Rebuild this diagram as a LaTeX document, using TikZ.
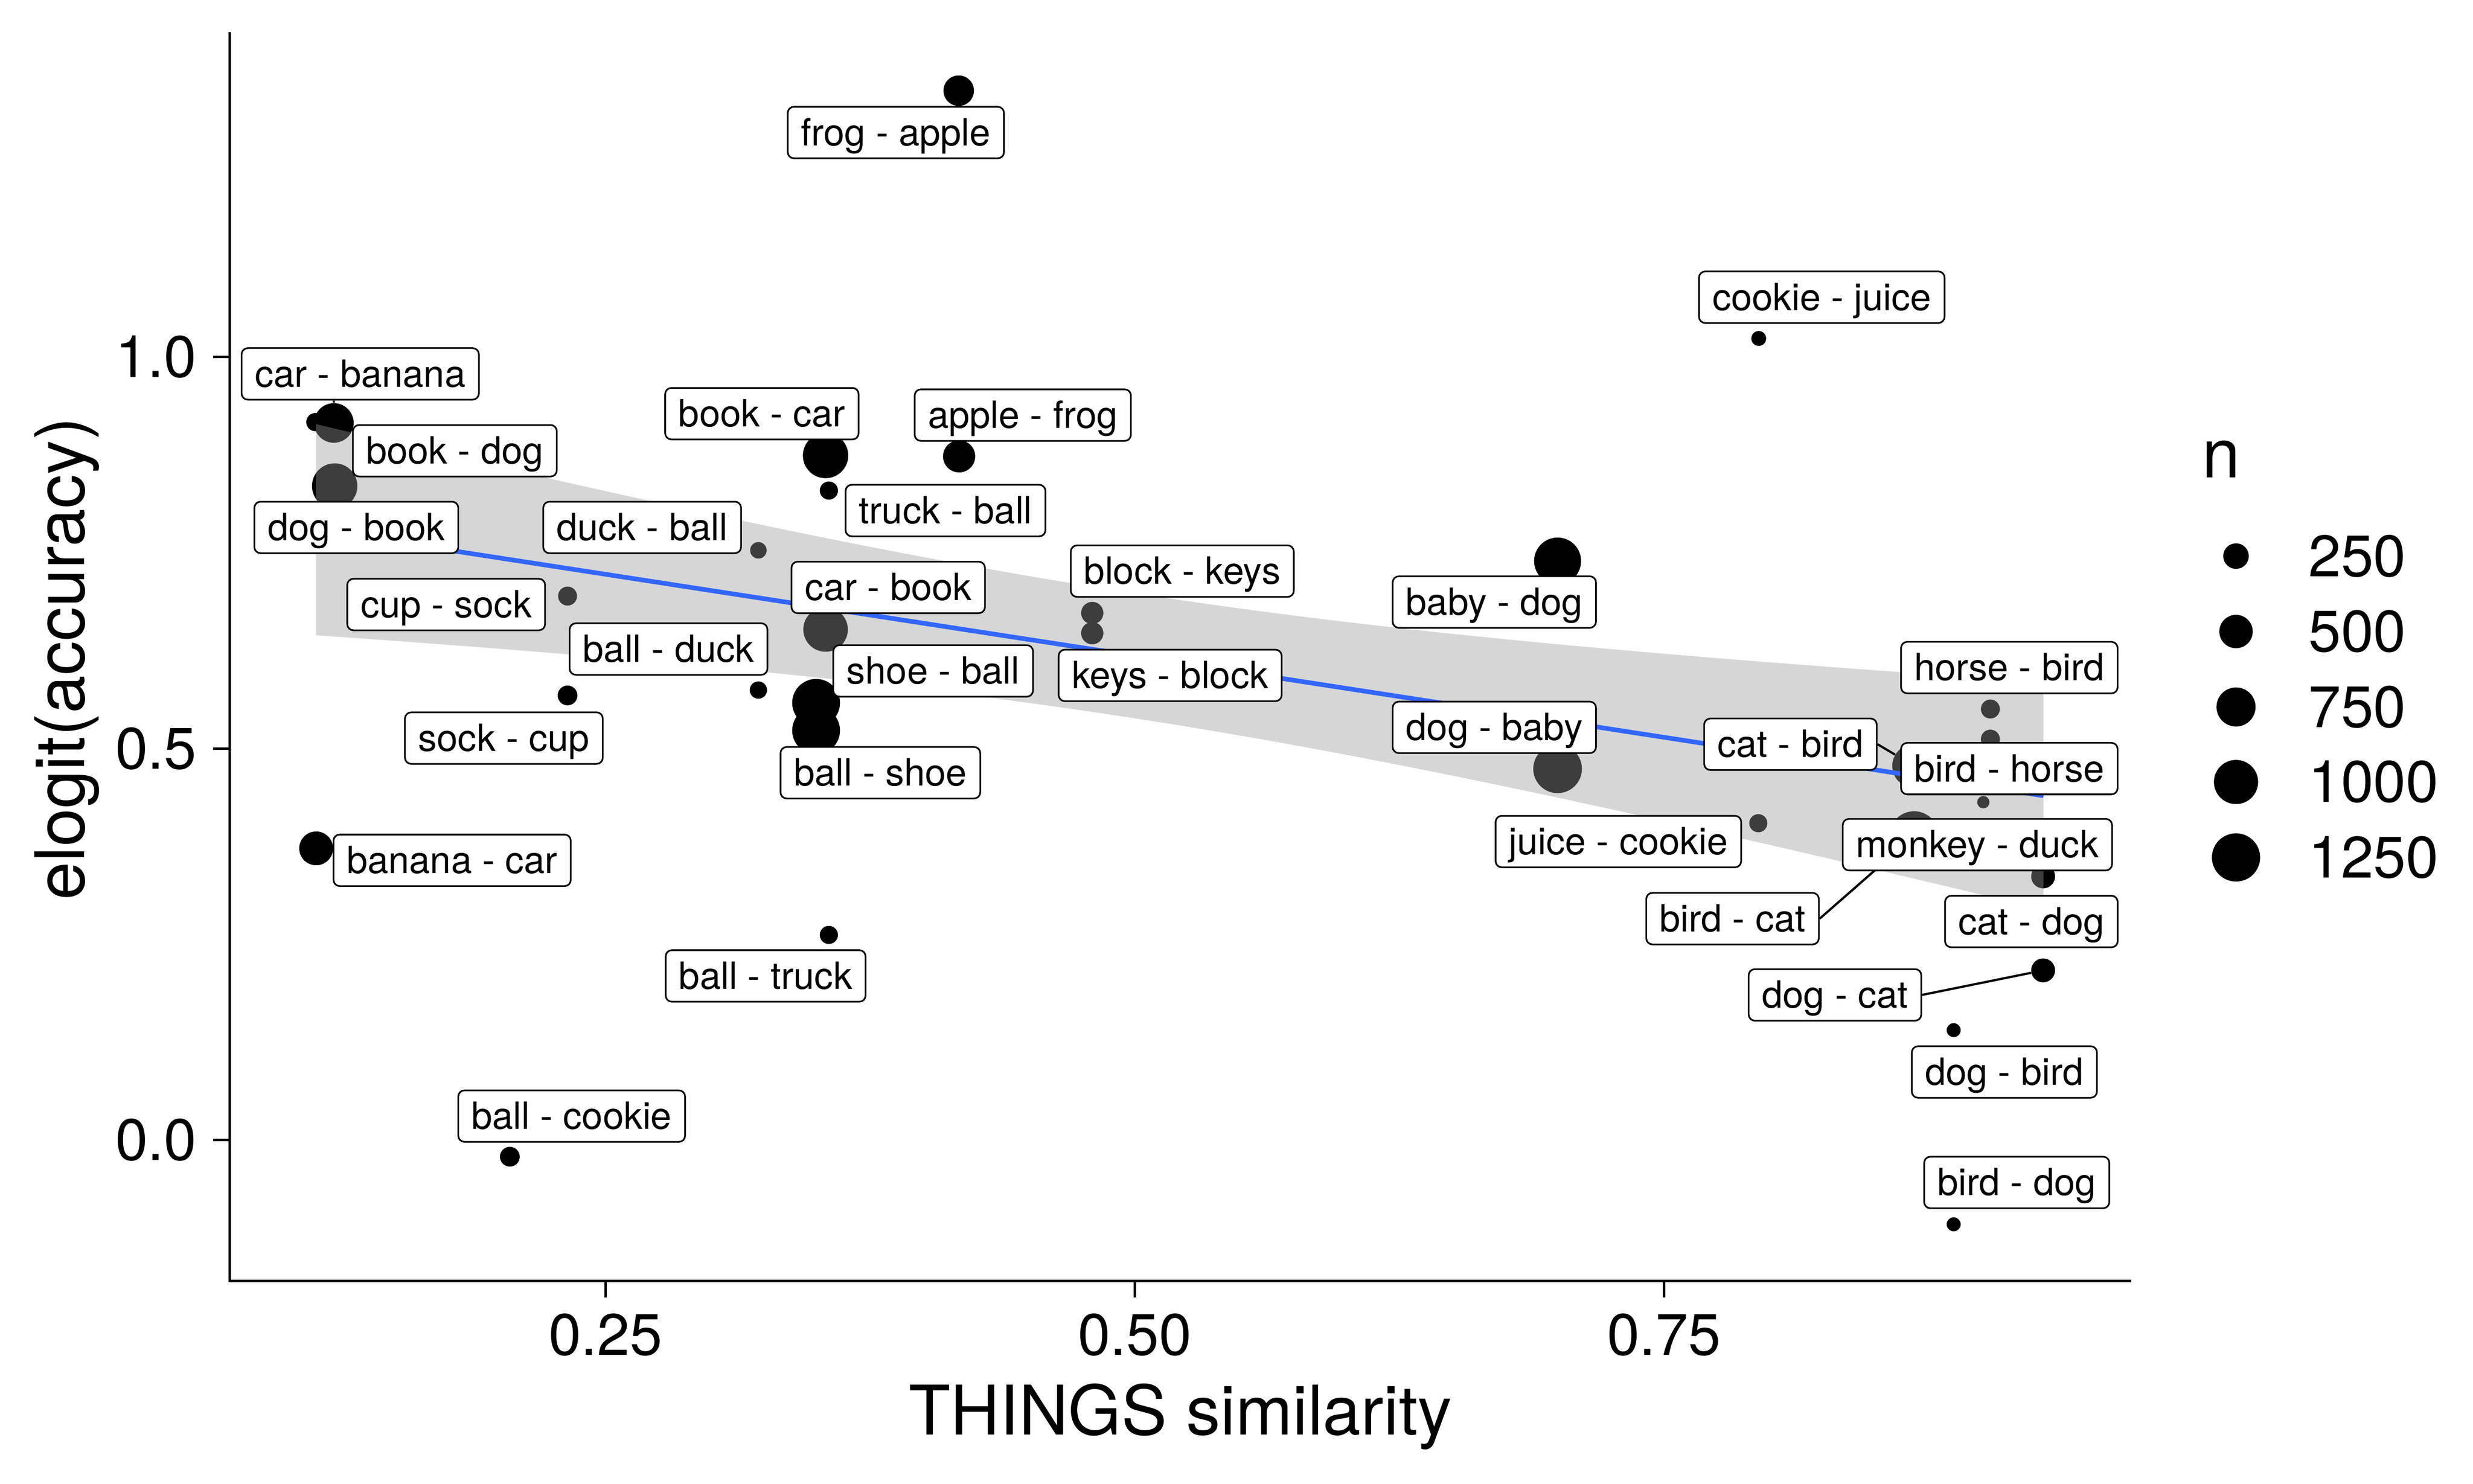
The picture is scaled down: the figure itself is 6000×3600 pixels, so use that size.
\documentclass[tikz,border=0pt]{standalone}
\usepackage{fontspec}
\setmainfont{TeX Gyre Heros}
\definecolor{fitblue}{HTML}{3366FF}
\definecolor{ribbongray}{HTML}{999999}
\pgfdeclarelayer{panel}
\pgfdeclarelayer{segs}
\pgfsetlayers{panel,segs,main}
\begin{document}
\begin{tikzpicture}[x=0.25pt, y=-0.25pt,
  lab/.style={draw=black, line width=1pt, fill=white, rounded corners=3.75pt,
    inner xsep=8.1pt, inner ysep=7.25pt, text height=16.25pt, text depth=0.5pt,
    font=\fontsize{22.75}{27}\selectfont},
  datapt/.style={circle, fill=black, inner sep=0pt, minimum size=#1pt},
  seg/.style={line width=1.35pt, black},
  axisline/.style={line width=1.5pt, black},
  fitline/.style={line width=2.8pt, fitblue},
  ticktext/.style={font=\fontsize{35.5}{40}\selectfont, inner sep=0pt},
  titletext/.style={font=\fontsize{41.5}{48}\selectfont, inner sep=0pt}]
\useasboundingbox (0,0) rectangle (6000,3600);

\begin{pgfonlayer}{panel}
% data points
\node[datapt=11]   (pA)  at (765,1024) {};
\node[datapt=24]   (pB)  at (810,1026) {};
\node[datapt=27.5] (pC)  at (812,1179) {};
\node[datapt=20.5] (pD)  at (767,2058) {};
\node[datapt=12]   (pE)  at (1237,2806) {};
\node[datapt=11.5] (pF)  at (1377,1446) {};
\node[datapt=12]   (pG)  at (1377,1687) {};
\node[datapt=10]   (pH)  at (1840,1335) {};
\node[datapt=10.5] (pI)  at (1840,1674) {};
\node[datapt=27.5] (pJ)  at (2003,1105) {};
\node[datapt=11]   (pK)  at (2011,1190) {};
\node[datapt=27]   (pL)  at (2003,1527) {};
\node[datapt=29]   (pM)  at (1980,1705) {};
\node[datapt=29]   (pN)  at (1980,1772) {};
\node[datapt=11]   (pO)  at (2011,2268) {};
\node[datapt=19.5] (pP)  at (2327,1107) {};
\node[datapt=18.5] (pQ)  at (2326,220) {};
\node[datapt=13.5] (pR)  at (2650,1487) {};
\node[datapt=13.5] (pS)  at (2650,1536) {};
\node[datapt=28.5] (pT)  at (3779,1361) {};
\node[datapt=29.5] (pU)  at (3779,1865) {};
\node[datapt=11]   (pV)  at (4266,1997) {};
\node[datapt=9]    (pW)  at (4267,821) {};
\node[datapt=26.5] (pX)  at (4644,1858) {};
\node[datapt=30]   (pY)  at (4644,2028) {};
\node[datapt=11.5] (pZ)  at (4829,1720) {};
\node[datapt=11.5] (pAA) at (4829,1793) {};
\node[datapt=7.5]  (pAB) at (4812,1946) {};
\node[datapt=14.5] (pAC) at (4957,2126) {};
\node[datapt=14.5] (pAD) at (4957,2354) {};
\node[datapt=8.5]  (pAE) at (4740,2499) {};
\node[datapt=8.5]  (pAF) at (4740,2970) {};

% confidence ribbon
\fill[ribbongray, fill opacity=0.4]
  plot[domain=767:4958, samples=80] (\x, {1285+0.154*(\x-767)-100*sqrt(2.3+1.0865*(\x/1000-2.7457)^2)})
  -- plot[domain=4958:767, samples=80] (\x, {1285+0.154*(\x-767)+100*sqrt(2.3+1.0865*(\x/1000-2.7457)^2)})
  -- cycle;

% fitted line
\coordinate (f0) at (767,1285);
\coordinate (f1) at (4958,1930.4);
\draw[fitline] (f0) -- (f1);
\end{pgfonlayer}

% labels
\node[lab] (lfa)  at (2173.5,321.5) {frog - apple};
\node[lab] (lcj)  at (4420,721)     {cookie - juice};
\node[lab] (lcb)  at (874,907)      {car - banana};
\node[lab] (lbd)  at (1103.5,1093.5){book - dog};
\node[lab] (lbc)  at (1848.5,1003.5){book - car};
\node[lab] (laf)  at (2481.5,1007)  {apple - frog};
\node[lab] (ltb)  at (2294,1238.5)  {truck - ball};
\node[lab] (ldb)  at (864.5,1279.5) {dog - book};
\node[lab] (ldub) at (1558,1279.5)  {duck - ball};
\node[lab] (lbk)  at (2868.5,1385.5){block - keys};
\node[lab] (lcbk) at (2155,1425)    {car - book};
\node[lab] (lcs)  at (1082.5,1466.5){cup - sock};
\node[lab] (lbyd) at (3625.5,1460.5){baby - dog};
\node[lab] (lbdu) at (1622,1574.5)  {ball - duck};
\node[lab] (lsb)  at (2264,1627.5)  {shoe - ball};
\node[lab] (lkb)  at (2839,1638.5)  {keys - block};
\node[lab] (lhb)  at (4875,1619.5)  {horse - bird};
\node[lab] (lsc)  at (1222.5,1790.5){sock - cup};
\node[lab] (ldby) at (3625.5,1764.5){dog - baby};
\node[lab] (lcbd) at (4344,1805.5)  {cat - bird};
\node[lab] (lbh)  at (4875,1864.5)  {bird - horse};
\node[lab] (lbs)  at (2136,1874.5)  {ball - shoe};
\node[lab] (ljc)  at (3926.5,2041.5){juice - cookie};
\node[lab] (lmd)  at (4797.5,2049)  {monkey - duck};
\node[lab] (lbnc) at (1097,2087)    {banana - car};
\node[lab] (lbct) at (4203.5,2228.5){bird - cat};
\node[lab] (lcd)  at (4928.5,2235.5){cat - dog};
\node[lab] (lbt)  at (1857.5,2367.5){ball - truck};
\node[lab] (ldc)  at (4452,2413.5)  {dog - cat};
\node[lab] (ldbd) at (4863,2600.5)  {dog - bird};
\node[lab] (lbck) at (1387,2707.5)  {ball - cookie};
\node[lab] (lbdg) at (4893,2868.5)  {bird - dog};

% label segments, below the label boxes
\begin{pgfonlayer}{segs}
\draw[seg] (lcb.south -| pB) -- (pB);
\draw[seg] (lcbd.east) -- (pX);
\draw[seg] (lbct.east) -- (pY);
\draw[seg] (ldc.east) -- (pAD);
\end{pgfonlayer}

% axes
\coordinate (otop) at (557,78);
\coordinate (oorig) at (557,3107);
\coordinate (oright) at (5171,3107);
\draw[axisline] (otop) -- (oorig) -- (oright);
\foreach \yy/\tx in {866/1.0, 1816/0.5, 2765/0.0}{
  \draw[axisline] (517,\yy) -- (557,\yy);
  \node[ticktext, anchor=east] at (478,\yy) {\tx};
}
\foreach \xx/\tx in {1469/0.25, 2753/0.50, 4037/0.75}{
  \draw[axisline] (\xx,3107) -- (\xx,3147);
  \node[ticktext, anchor=base] at (\xx,3287) {\tx};
}
\node[titletext, anchor=base] (xtitle) at (2864,3481) {THINGS similarity};
\node[titletext, anchor=base, rotate=90] (ytitle) at (205,1598) {elogit(accuracy)};

% legend
\node[titletext, anchor=base west] (ltitle) at (5342,1159) {n};
\foreach \yy/\dd/\tx in {1349/15.5/250, 1532/20.25/500, 1715/23.7/750, 1897/26.8/1000, 2080/29.25/1250}{
  \node[datapt=\dd] at (5425,\yy) {};
  \node[ticktext, anchor=west] at (5600,\yy) {\tx};
}
\end{tikzpicture}
\end{document}
